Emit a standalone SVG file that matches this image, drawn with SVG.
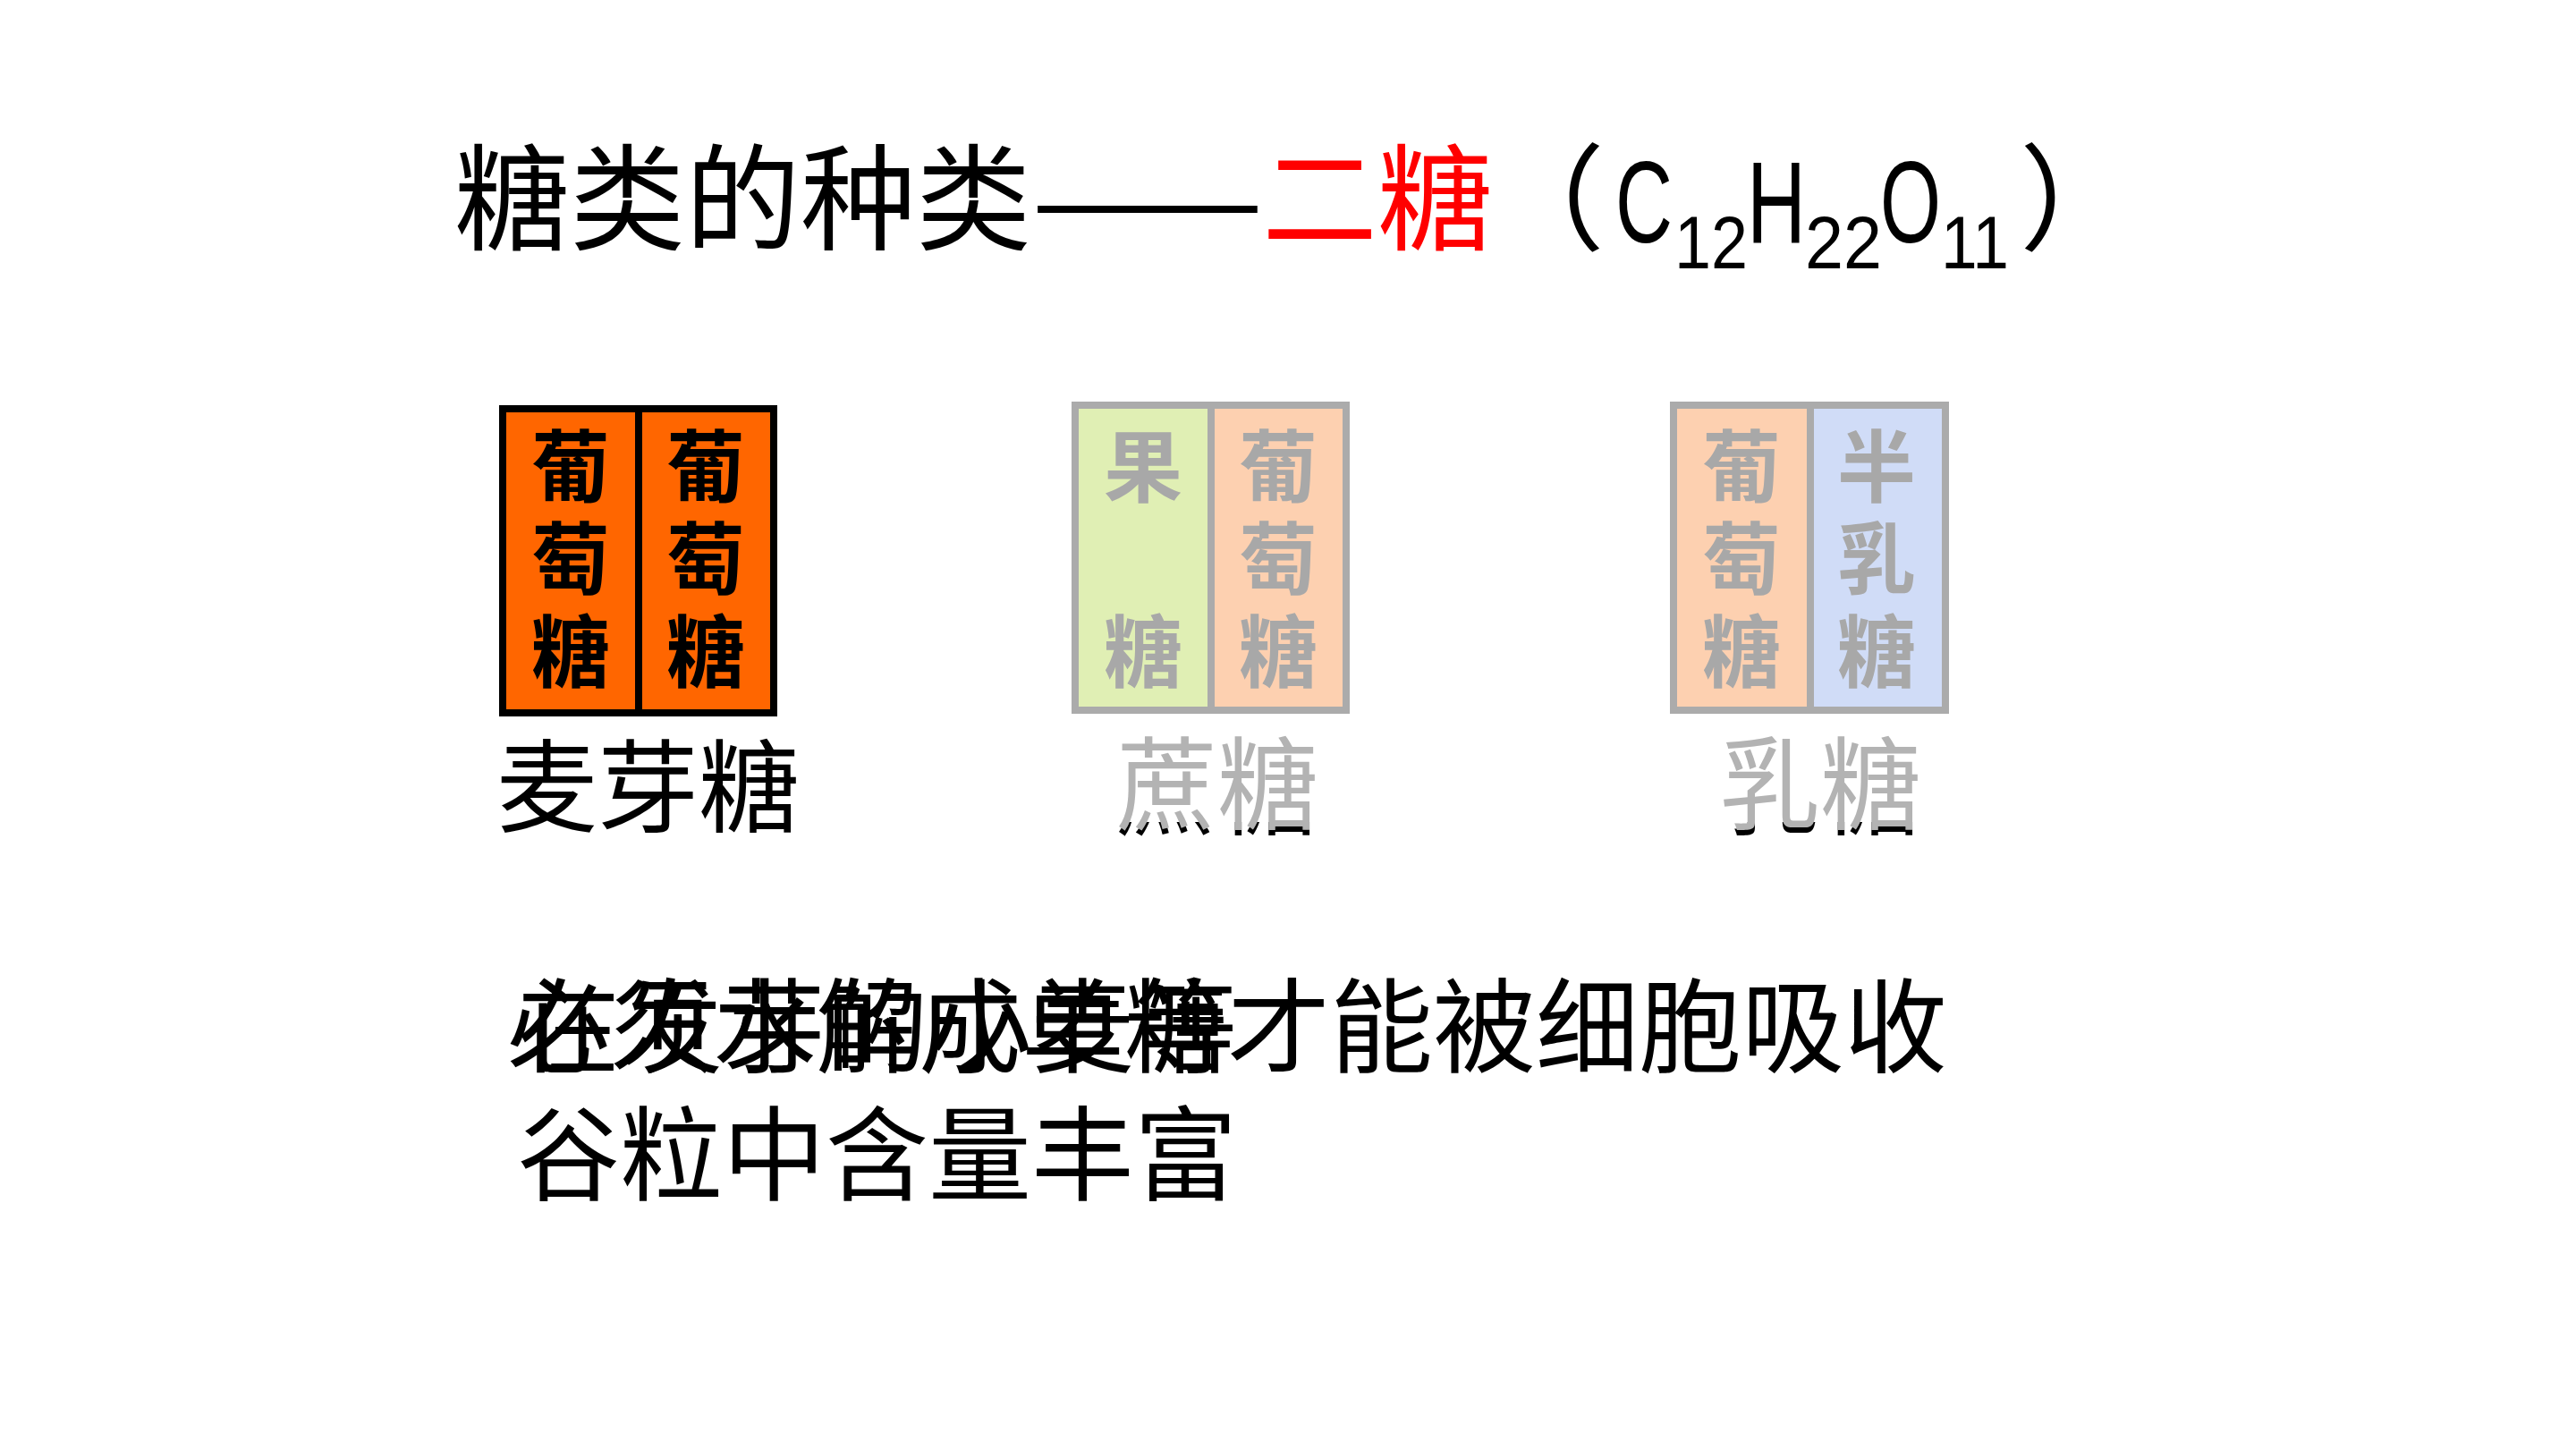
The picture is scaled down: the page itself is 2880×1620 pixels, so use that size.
<svg xmlns="http://www.w3.org/2000/svg" width="2880" height="1620" viewBox="0 0 2880 1620">
  <style>
    .cjk { font-family: "Noto Sans CJK SC", "Noto Sans", sans-serif; }
    .lat { font-family: "Liberation Sans", Arial, sans-serif; }
    .title { font-size: 129px; fill: #000; }
    .red { fill: #FF0000; }
    .cell { font-size: 88px; font-weight: 700; text-anchor: middle; }
    .cellDark { fill: #000; }
    .cellGray { fill: #A8A8A8; }
    .label { font-size: 113px; }
    .note { font-size: 115px; fill: #000; }
    .boxDark { stroke: #000; stroke-width: 8; }
    .boxGray { stroke: #ABABAB; stroke-width: 8; }
  </style>
  <defs>
    <clipPath id="bottomBand" clipPathUnits="userSpaceOnUse">
      <rect x="1100" y="919" width="1200" height="30"/>
    </clipPath>
  </defs>
  <rect width="2880" height="1620" fill="#FFFFFF"/>

  <g id="title">
    <text class="cjk title" x="508" y="270">糖类的种类</text>
    <text class="cjk title" x="1153" y="270" textLength="260" lengthAdjust="spacingAndGlyphs">——</text>
    <text class="cjk title red" x="1411" y="270">二糖</text>
    <text class="cjk title" x="1665" y="270">（</text>
    <text class="lat" font-size="130" x="1806" y="271" textLength="64" lengthAdjust="spacingAndGlyphs">C</text>
    <text class="lat" font-size="84" x="1872" y="300" textLength="82" lengthAdjust="spacingAndGlyphs">12</text>
    <text class="lat" font-size="130" x="1953" y="271" textLength="66" lengthAdjust="spacingAndGlyphs">H</text>
    <text class="lat" font-size="84" x="2018" y="300" textLength="86" lengthAdjust="spacingAndGlyphs">22</text>
    <text class="lat" font-size="130" x="2102" y="271" textLength="68" lengthAdjust="spacingAndGlyphs">O</text>
    <text class="lat" font-size="84" x="2170" y="300" textLength="76" lengthAdjust="spacingAndGlyphs">11</text>
    <text class="cjk title" x="2258" y="270">）</text>
  </g>

  <g id="node-maltose">
    <rect x="562" y="457" width="152" height="340" fill="#FF6600" class="boxDark"/>
    <rect x="714" y="457" width="151" height="340" fill="#FF6600" class="boxDark"/>
    <text class="cjk cell cellDark" x="638" y="554">葡</text>
    <text class="cjk cell cellDark" x="638" y="657">萄</text>
    <text class="cjk cell cellDark" x="638" y="761">糖</text>
    <text class="cjk cell cellDark" x="789" y="554">葡</text>
    <text class="cjk cell cellDark" x="789" y="657">萄</text>
    <text class="cjk cell cellDark" x="789" y="761">糖</text>
    <text class="cjk label" x="555" y="921" fill="#000">麦芽糖</text>
  </g>

  <g id="node-sucrose">
    <rect x="1202" y="453" width="152" height="341" fill="#E0EFB4" class="boxGray"/>
    <rect x="1354" y="453" width="151" height="341" fill="#FDD0B0" class="boxGray"/>
    <text class="cjk cell cellGray" x="1278" y="554">果</text>
    <text class="cjk cell cellGray" x="1278" y="761">糖</text>
    <text class="cjk cell cellGray" x="1429" y="554">葡</text>
    <text class="cjk cell cellGray" x="1429" y="657">萄</text>
    <text class="cjk cell cellGray" x="1429" y="761">糖</text>
    <text class="cjk label" x="1248" y="924" fill="#000" clip-path="url(#bottomBand)">蔗糖</text>
    <text class="cjk label" x="1248" y="918" fill="#B3B3B3">蔗糖</text>
  </g>

  <g id="node-lactose">
    <rect x="1871" y="453" width="153" height="341" fill="#FDD0B0" class="boxGray"/>
    <rect x="2024" y="453" width="151" height="341" fill="#D0DCF7" class="boxGray"/>
    <text class="cjk cell cellGray" x="1947" y="554">葡</text>
    <text class="cjk cell cellGray" x="1947" y="657">萄</text>
    <text class="cjk cell cellGray" x="1947" y="761">糖</text>
    <text class="cjk cell cellGray" x="2098" y="554">半</text>
    <text class="cjk cell cellGray" x="2098" y="657">乳</text>
    <text class="cjk cell cellGray" x="2098" y="761">糖</text>
    <text class="cjk label" x="1922" y="924" fill="#000" clip-path="url(#bottomBand)">乳糖</text>
    <text class="cjk label" x="1922" y="918" fill="#B3B3B3">乳糖</text>
  </g>

  <g id="notes">
    <text class="cjk note" x="567" y="1190">必须水解成单糖才能被细胞吸收</text>
    <text class="cjk note" x="578" y="1190" font-size="114">在发芽的小麦等</text>
    <text class="cjk note" x="578" y="1333" font-size="114">谷粒中含量丰富</text>
  </g>

  <g id="connectors"/>
</svg>
